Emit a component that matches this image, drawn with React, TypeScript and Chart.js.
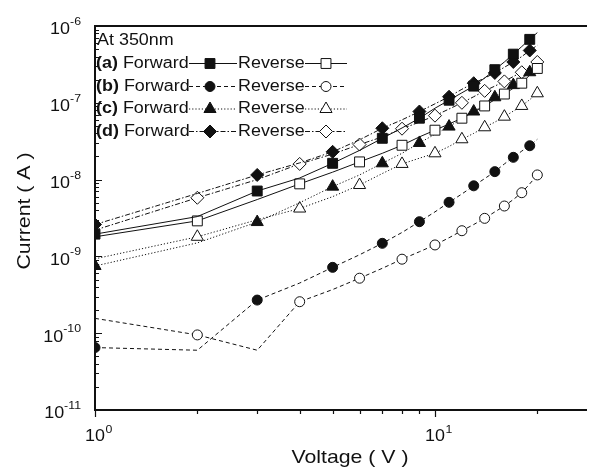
import React, { useEffect, useRef } from 'react';
import { Chart, registerables } from 'chart.js';

Chart.register(...registerables);

// ---------- data ----------
const voltage = [1, 2, 3, 4, 5, 6, 7, 8, 9, 10, 11, 12, 13, 14, 15, 16, 17, 18, 19, 20];

const aForward = [1.95e-9, 3.3e-9, 7.1e-9, 1.05e-8, 1.63e-8, 2.4e-8, 3.45e-8, 4.7e-8, 6.3e-8, 8.5e-8, 1.08e-7, 1.35e-7, 1.65e-7, 2.1e-7, 2.7e-7, 3.4e-7, 4.3e-7, 5.4e-7, 6.7e-7, 8.2e-7];
const aReverse = [1.8e-9, 2.9e-9, 5.5e-9, 8.8e-9, 1.25e-8, 1.7e-8, 2.2e-8, 2.8e-8, 3.6e-8, 4.4e-8, 5.3e-8, 6.3e-8, 7.6e-8, 9.1e-8, 1.1e-7, 1.3e-7, 1.55e-7, 1.8e-7, 2.3e-7, 2.8e-7];

const bForward = [6.5e-11, 6.0e-11, 2.7e-10, 4.5e-10, 7.2e-10, 1.05e-9, 1.48e-9, 2.05e-9, 2.83e-9, 3.8e-9, 5.06e-9, 6.5e-9, 8.3e-9, 1.03e-8, 1.27e-8, 1.6e-8, 1.95e-8, 2.35e-8, 2.76e-8, 3.35e-8];
const bReverse = [1.56e-10, 9.5e-11, 6.0e-11, 2.57e-10, 3.7e-10, 5.2e-10, 7.0e-10, 9.2e-10, 1.15e-9, 1.41e-9, 1.75e-9, 2.16e-9, 2.6e-9, 3.13e-9, 3.8e-9, 4.53e-9, 5.5e-9, 6.75e-9, 8.8e-9, 1.15e-8];

const cForward = [7.5e-10, 1.5e-9, 2.8e-9, 5.0e-9, 8.1e-9, 1.15e-8, 1.63e-8, 2.2e-8, 3.0e-8, 3.9e-8, 4.9e-8, 6.2e-8, 7.7e-8, 9.5e-8, 1.18e-7, 1.42e-7, 1.7e-7, 2.05e-7, 2.5e-7, 2.9e-7];
const cReverse = [9.3e-10, 1.8e-9, 3.0e-9, 4.2e-9, 6.0e-9, 8.5e-9, 1.2e-8, 1.6e-8, 1.9e-8, 2.2e-8, 2.7e-8, 3.35e-8, 4.0e-8, 4.8e-8, 5.6e-8, 6.6e-8, 7.8e-8, 9.1e-8, 1.1e-7, 1.33e-7];

const dForward = [2.6e-9, 6.6e-9, 1.15e-8, 1.65e-8, 2.3e-8, 3.3e-8, 4.66e-8, 6.0e-8, 7.7e-8, 9.7e-8, 1.2e-7, 1.5e-7, 1.8e-7, 2.1e-7, 2.45e-7, 2.9e-7, 3.4e-7, 4.0e-7, 4.8e-7, 5.6e-7];
const dReverse = [2.2e-9, 5.8e-9, 1.0e-8, 1.6e-8, 2.15e-8, 2.86e-8, 3.6e-8, 4.6e-8, 5.6e-8, 6.8e-8, 8.3e-8, 1.0e-7, 1.2e-7, 1.43e-7, 1.65e-7, 1.9e-7, 2.2e-7, 2.5e-7, 2.9e-7, 3.4e-7];

const seriesTags = ['(a)', '(b)', '(c)', '(d)'];
const forwardLabel = 'Forward';
const reverseLabel = 'Reverse';
const legendTitle = 'At 350nm';
const xTitle = 'Voltage ( V )';
const yTitle = 'Current ( A )';
const xTickExponents = [0, 1];
const yTickExponents = [-6, -7, -8, -9, -10, -11];
const xMin = 1;
const xMax = 28;
const yMin = 1e-11;
const yMax = 1e-6;

// ---------- styles ----------
const FONT = '"Liberation Sans", Arial, Helvetica, sans-serif';
const STRETCH = 1.12;
const INK = '#111111';

type Marker = 'rect' | 'circle' | 'triangle' | 'rectRot';
const markers: Marker[] = ['rect', 'circle', 'triangle', 'rectRot'];
const markerRadius = [7, 5, 7, 6.5];
const dashes: number[][] = [[], [4, 3], [1.2, 2], [5, 2, 1.5, 2]];

const forwardSets = [aForward, bForward, cForward, dForward];
const reverseSets = [aReverse, bReverse, cReverse, dReverse];

function drawText(ctx: CanvasRenderingContext2D, t: string, x: number, y: number, font: string, align: 'left' | 'right' | 'center' = 'left') {
  ctx.save();
  ctx.font = font;
  ctx.textBaseline = 'middle';
  ctx.textAlign = 'left';
  const w = ctx.measureText(t).width * STRETCH;
  const x0 = align === 'left' ? x : align === 'right' ? x - w : x - w / 2;
  ctx.translate(x0, y);
  ctx.scale(STRETCH, 1);
  ctx.fillStyle = INK;
  ctx.fillText(t, 0, 0);
  ctx.restore();
  return w;
}

function textWidth(ctx: CanvasRenderingContext2D, t: string, font: string) {
  ctx.save();
  ctx.font = font;
  const w = ctx.measureText(t).width * STRETCH;
  ctx.restore();
  return w;
}

function drawMarker(ctx: CanvasRenderingContext2D, kind: Marker, x: number, y: number, r: number, filled: boolean) {
  ctx.save();
  ctx.beginPath();
  if (kind === 'rect') {
    const h = r * Math.SQRT1_2;
    ctx.rect(x - h, y - h, 2 * h, 2 * h);
  } else if (kind === 'circle') {
    ctx.arc(x, y, r, 0, Math.PI * 2);
  } else if (kind === 'triangle') {
    for (let k = 0; k < 3; k++) {
      const a = -Math.PI / 2 + (k * 2 * Math.PI) / 3;
      const px = x + Math.cos(a) * r;
      const py = y + Math.sin(a) * r;
      if (k === 0) ctx.moveTo(px, py);
      else ctx.lineTo(px, py);
    }
    ctx.closePath();
  } else {
    ctx.moveTo(x, y - r);
    ctx.lineTo(x + r, y);
    ctx.lineTo(x, y + r);
    ctx.lineTo(x - r, y);
    ctx.closePath();
  }
  ctx.fillStyle = filled ? INK : '#ffffff';
  ctx.fill();
  ctx.lineWidth = 1;
  ctx.strokeStyle = INK;
  ctx.setLineDash([]);
  ctx.stroke();
  ctx.restore();
}

const decorPlugin = {
  id: 'decor',
  afterDraw(chart: any) {
    const ctx: CanvasRenderingContext2D = chart.ctx;
    const area = chart.chartArea;
    const xs = chart.scales.x;
    const ys = chart.scales.y;
    ctx.save();
    ctx.strokeStyle = INK;
    ctx.lineWidth = 2;
    ctx.setLineDash([]);
    // frame: left, bottom, top
    ctx.beginPath();
    ctx.moveTo(area.left, area.top);
    ctx.lineTo(area.left, area.bottom);
    ctx.moveTo(area.left - 1, area.bottom);
    ctx.lineTo(area.right, area.bottom);
    ctx.moveTo(area.left - 1, area.top);
    ctx.lineTo(area.right, area.top);
    ctx.stroke();

    // y ticks (inward)
    ctx.lineWidth = 1.2;
    ctx.beginPath();
    for (let d = -11; d <= -6; d++) {
      for (let m = 1; m <= 9; m++) {
        const v = m * Math.pow(10, d);
        if (v > yMax * 1.0001) continue;
        const py = Math.round(ys.getPixelForValue(v)) + 0.5;
        const len = m === 1 ? 7 : 4;
        ctx.moveTo(area.left, py);
        ctx.lineTo(area.left + len, py);
      }
    }
    // x ticks (outward)
    for (let d = 0; d <= 1; d++) {
      for (let m = 1; m <= 9; m++) {
        const v = m * Math.pow(10, d);
        if (v > xMax) continue;
        const px = Math.round(xs.getPixelForValue(v)) + 0.5;
        const len = m === 1 ? 7 : 4;
        ctx.moveTo(px, area.bottom);
        ctx.lineTo(px, area.bottom + len);
      }
    }
    ctx.stroke();

    const baseFont = `16px ${FONT}`;
    const expFont = `11px ${FONT}`;
    // y tick labels
    yTickExponents.forEach((e) => {
      const py = ys.getPixelForValue(Math.pow(10, e));
      const es = String(e);
      const we = textWidth(ctx, es, expFont);
      const w10 = textWidth(ctx, '10', baseFont);
      const right = 81;
      drawText(ctx, '10', right - we - w10, py + 4, baseFont);
      drawText(ctx, es, right - we, py - 4, expFont);
    });
    // x tick labels
    xTickExponents.forEach((e) => {
      const px = xs.getPixelForValue(Math.pow(10, e));
      const w10 = textWidth(ctx, '10', baseFont);
      drawText(ctx, '10', px - w10 / 2, 437, baseFont);
      drawText(ctx, String(e), px + w10 / 2 + 0.5, 430, expFont);
    });

    // axis titles
    const titleFont = `19px ${FONT}`;
    drawText(ctx, xTitle, 350, 458, titleFont, 'center');
    ctx.save();
    ctx.translate(25, 211);
    ctx.rotate(-Math.PI / 2);
    drawText(ctx, yTitle, 0, 0, titleFont, 'center');
    ctx.restore();

    // legend
    drawText(ctx, legendTitle, 97, 41, baseFont);
    const rowY = [63.5, 86.5, 109, 131.5];
    const boldFont = `bold 16px ${FONT}`;
    seriesTags.forEach((tag, i) => {
      const y = rowY[i];
      const wt = drawText(ctx, tag, 96, y, boldFont);
      drawText(ctx, forwardLabel, 96 + wt + 5, y, baseFont);
      // forward sample
      ctx.save();
      ctx.strokeStyle = INK;
      ctx.lineWidth = 1;
      ctx.setLineDash(dashes[i]);
      ctx.beginPath();
      ctx.moveTo(189, y);
      ctx.lineTo(237, y);
      ctx.stroke();
      ctx.restore();
      drawMarker(ctx, markers[i], 210, y, markerRadius[i], true);
      drawText(ctx, reverseLabel, 238, y, baseFont);
      ctx.save();
      ctx.strokeStyle = INK;
      ctx.lineWidth = 1;
      ctx.setLineDash(dashes[i]);
      ctx.beginPath();
      ctx.moveTo(305, y);
      ctx.lineTo(347, y);
      ctx.stroke();
      ctx.restore();
      drawMarker(ctx, markers[i], 326, y, markerRadius[i], false);
    });
    ctx.restore();
  },
};

export default function App() {
  const ref = useRef<HTMLCanvasElement | null>(null);
  useEffect(() => {
    if (!ref.current) return;
    const datasets: any[] = [];
    for (let i = 0; i < 4; i++) {
      const r = markerRadius[i];
      datasets.push({
        label: seriesTags[i] + ' ' + forwardLabel,
        data: voltage.map((v, k) => ({ x: v, y: forwardSets[i][k] })),
        borderColor: INK,
        borderWidth: 1,
        borderDash: dashes[i],
        backgroundColor: INK,
        pointStyle: markers[i],
        pointBackgroundColor: INK,
        pointBorderColor: INK,
        pointBorderWidth: 1,
        pointRadius: (c: any) => (c.dataIndex % 2 === 0 ? r : 0),
        tension: 0,
        fill: false,
      });
      datasets.push({
        label: seriesTags[i] + ' ' + reverseLabel,
        data: voltage.map((v, k) => ({ x: v, y: reverseSets[i][k] })),
        borderColor: INK,
        borderWidth: 1,
        borderDash: dashes[i],
        backgroundColor: '#ffffff',
        pointStyle: markers[i],
        pointBackgroundColor: '#ffffff',
        pointBorderColor: INK,
        pointBorderWidth: 1,
        pointRadius: (c: any) => (c.dataIndex % 2 === 1 ? r : 0),
        tension: 0,
        fill: false,
      });
    }
    const chart = new Chart(ref.current, {
      type: 'line',
      data: { datasets },
      options: {
        animation: false,
        responsive: false,
        maintainAspectRatio: false,
        layout: { padding: { left: 95, top: 26, right: 0, bottom: 60 } },
        plugins: { legend: { display: false }, tooltip: { enabled: false } },
        scales: {
          x: { type: 'logarithmic', min: xMin, max: xMax, display: false },
          y: { type: 'logarithmic', min: yMin, max: yMax, display: false },
        },
      },
      plugins: [decorPlugin],
    });
    return () => chart.destroy();
  }, []);
  return (
    <div style={{ position: 'fixed', left: 0, top: 0, width: 595, height: 470, background: '#ffffff' }}>
      <canvas ref={ref} width={595} height={470} style={{ display: 'block' }} />
    </div>
  );
}
